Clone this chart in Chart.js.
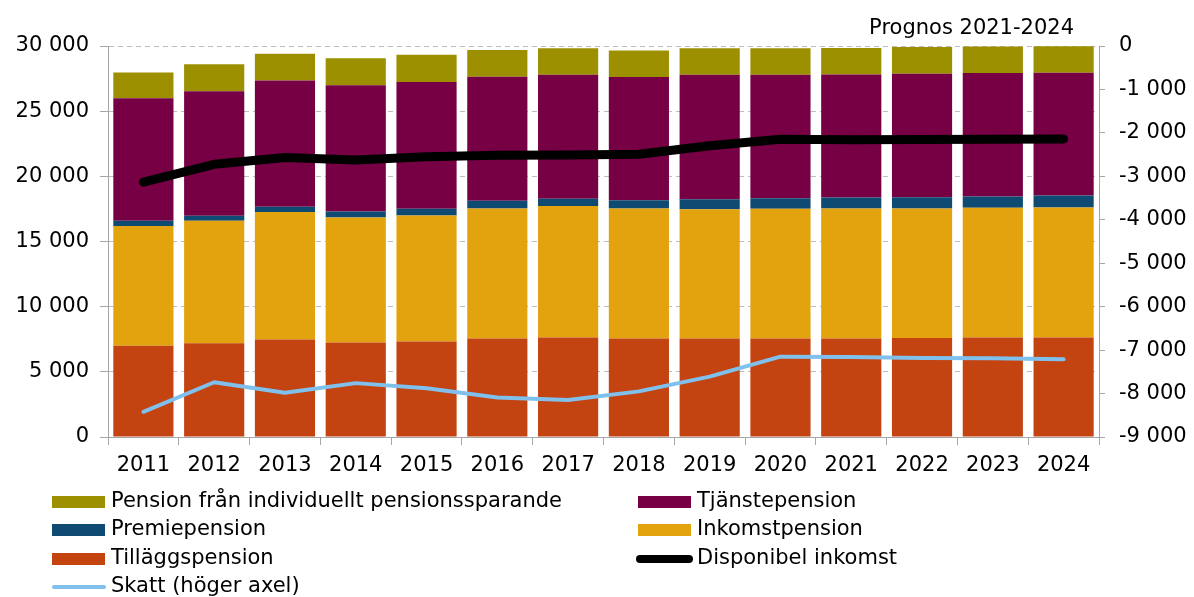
<!DOCTYPE html>
<html>
<head>
<meta charset="utf-8">
<script src="https://cdn.jsdelivr.net/npm/chart.js@4/dist/chart.umd.min.js"></script>
<style>
  body { margin: 0; background: #fff; }
  #wrap { position: relative; width: 1194px; height: 597px; font-family: 'DejaVu Sans', Verdana, sans-serif; }
  .item { position: absolute; height: 28px; line-height: 28px; font-size: 21px; color: #000; white-space: nowrap; }
  .sw { position: absolute; left: 0; }
  .lbl { position: absolute; left: 59px; top: -2px; }
</style>
</head>
<body>
<div id="wrap">
  <canvas id="chart" width="1194" height="597"></canvas>
  <div id="legend"></div>
</div>
<script>
'use strict';

// DATA
var years = ['2011', '2012', '2013', '2014', '2015', '2016', '2017', '2018', '2019', '2020', '2021', '2022', '2023', '2024'];
var tillagg = [7000, 7200, 7490, 7260, 7330, 7560, 7640, 7560, 7560, 7560, 7560, 7590, 7640, 7640];
var inkomst = [9180, 9390, 9770, 9590, 9670, 9980, 10080, 9970, 9920, 9950, 9970, 9950, 9950, 9970];
var premie = [410, 390, 410, 460, 510, 590, 560, 640, 770, 800, 850, 850, 870, 920];
var tjanste = [9410, 9540, 9690, 9670, 9720, 9510, 9510, 9460, 9540, 9490, 9440, 9490, 9460, 9410];
var individ = [1970, 2080, 2050, 2080, 2100, 2050, 2030, 2030, 2030, 2020, 2030, 2050, 2050, 2050];
var disponibel = [19560, 20920, 21440, 21260, 21510, 21620, 21640, 21690, 22350, 22850, 22800, 22820, 22850, 22870];
var skatt = [-8420, -7740, -7980, -7760, -7880, -8090, -8150, -7950, -7610, -7150, -7160, -7180, -7190, -7210];

var FONT = 'DejaVu Sans';

function fmt(v) {
   return String(v).replace(/\B(?=(\d{3})+(?!\d))/g, ' ');
}

// text above the right axis
var prognosPlugin = {
   id: 'prognos',
   afterDraw: function (chart) {
      var ctx = chart.ctx;
      ctx.save();
      ctx.font = '21px "' + FONT + '"';
      ctx.fillStyle = '#000';
      ctx.textAlign = 'right';
      ctx.textBaseline = 'alphabetic';
      ctx.fillText('Prognos 2021-2024', chart.chartArea.right - 25, 34);
      ctx.restore();
   }
};

var datasets = [
   { type: 'line', label: 'Disponibel inkomst', data: disponibel, yAxisID: 'y', stack: 'disp',
     borderColor: '#000', backgroundColor: '#000', borderWidth: 9, pointRadius: 0,
     borderCapStyle: 'round', borderJoinStyle: 'round', order: 0 },
   { type: 'line', label: 'Skatt (höger axel)', data: skatt, yAxisID: 'y1',
     borderColor: '#80c0ec', backgroundColor: '#80c0ec', borderWidth: 4, pointRadius: 0,
     borderCapStyle: 'round', borderJoinStyle: 'round', order: 0 },
   { label: 'Tilläggspension', data: tillagg, backgroundColor: '#c34311', order: 1 },
   { label: 'Inkomstpension', data: inkomst, backgroundColor: '#e2a30e', order: 1 },
   { label: 'Premiepension', data: premie, backgroundColor: '#0f4a73', order: 1 },
   { label: 'Tjänstepension', data: tjanste, backgroundColor: '#770044', order: 1 },
   { label: 'Pension från individuellt pensionssparande', data: individ, backgroundColor: '#9c9000', order: 1 }
];

var chart = new Chart(document.getElementById('chart'), {
   type: 'bar',
   data: { labels: years, datasets: datasets },
   options: {
      responsive: false,
      animation: false,
      devicePixelRatio: 1,
      layout: { padding: { top: 46, left: 0, right: 0, bottom: 0 } },
      datasets: { bar: { barPercentage: 0.85, categoryPercentage: 1, stack: 'pension' } },
      plugins: { legend: { display: false }, tooltip: { enabled: false } },
      scales: {
         x: {
            stacked: true,
            grid: { display: true, drawOnChartArea: false, drawTicks: true, tickLength: 8, color: '#a6a6a6', offset: true },
            border: { color: '#a6a6a6' },
            ticks: { color: '#000', font: { family: FONT, size: 21 }, padding: 8, maxRotation: 0 },
            afterFit: function (s) { s.height = 160; }
         },
         y: {
            position: 'left',
            stacked: true,
            min: 0, max: 30000,
            ticks: { stepSize: 5000, color: '#000', font: { family: FONT, size: 21 }, padding: 11, callback: fmt },
            grid: { color: '#bdbdbd', tickColor: '#a6a6a6', tickLength: 8 },
            border: { color: '#a6a6a6', dash: [5, 4] },
            afterFit: function (s) { s.width = 108; }
         },
         y1: {
            position: 'right',
            min: -9000, max: 0,
            ticks: { stepSize: 1000, color: '#000', font: { family: FONT, size: 21 }, padding: 14, callback: fmt },
            grid: { drawOnChartArea: false, tickColor: '#a6a6a6', tickLength: 6 },
            border: { color: '#a6a6a6' },
            afterFit: function (s) { s.width = 95; }
         }
      }
   },
   plugins: [prognosPlugin]
});

// LEGEND (html, two columns)
var legendItems = [
   { text: 'Pension från individuellt pensionssparande', color: '#9c9000', kind: 'box', col: 0, row: 0 },
   { text: 'Tjänstepension', color: '#770044', kind: 'box', col: 1, row: 0 },
   { text: 'Premiepension', color: '#0f4a73', kind: 'box', col: 0, row: 1 },
   { text: 'Inkomstpension', color: '#e2a30e', kind: 'box', col: 1, row: 1 },
   { text: 'Tilläggspension', color: '#c34311', kind: 'box', col: 0, row: 2 },
   { text: 'Disponibel inkomst', color: '#000', kind: 'thick', col: 1, row: 2 },
   { text: 'Skatt (höger axel)', color: '#80c0ec', kind: 'thin', col: 0, row: 3 }
];
var legend = document.getElementById('legend');
var colX = [52, 638];
var rowY = [487.5, 516, 544.5, 573];
legendItems.forEach(function (it) {
   var sw;
   if (it.kind === 'box') {
      sw = '<span class="sw" style="top:8px;width:53px;height:12px;background:' + it.color + '"></span>';
   } else if (it.kind === 'thick') {
      sw = '<span class="sw" style="left:-2px;top:10px;width:57px;height:8px;border-radius:4px;background:' + it.color + '"></span>';
   } else {
      sw = '<span class="sw" style="top:12px;width:54px;height:4px;border-radius:2px;background:' + it.color + '"></span>';
   }
   legend.innerHTML = legend.innerHTML + '<div class="item" style="left:' + colX[it.col] + 'px;top:' + rowY[it.row] + 'px">' + sw + '<span class="lbl">' + it.text + '</span></div>';
});
</script>
</body>
</html>
